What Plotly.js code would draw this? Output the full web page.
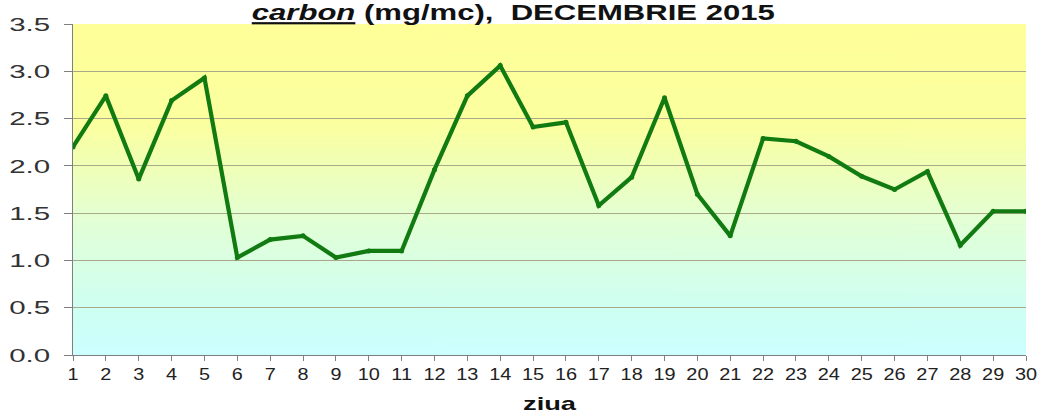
<!DOCTYPE html>
<html><head><meta charset="utf-8">
<script src="https://cdn.plot.ly/plotly-3.0.1.min.js"></script>
<style>html,body{margin:0;padding:0;background:#fff}#chart{width:1039px;height:415px}</style>
</head><body><div id="chart"></div>
<script>
const days = [1,2,3,4,5,6,7,8,9,10,11,12,13,14,15,16,17,18,19,20,21,22,23,24,25,26,27,28,29,30];
const carbon = [2.20,2.74,1.86,2.69,2.93,1.03,1.22,1.26,1.03,1.10,1.10,1.96,2.74,3.06,2.41,2.46,1.58,1.88,2.72,1.70,1.26,2.29,2.26,2.10,1.89,1.75,1.94,1.16,1.52,1.52];
const yTicks = [0,0.5,1,1.5,2,2.5,3,3.5];

const cv = document.createElement('canvas');
cv.width = 4; cv.height = 256;
const cx = cv.getContext('2d');
const g = cx.createLinearGradient(0,0,0,256);
g.addColorStop(0,'#FFFF99');
g.addColorStop(0.3,'#FBFF9F');
g.addColorStop(0.6,'#E2FFD6');
g.addColorStop(0.85,'#CFFFF2');
g.addColorStop(1,'#CCFFFF');
cx.fillStyle = g; cx.fillRect(0,0,4,256);
const bg = cv.toDataURL();

const FONT = 'Liberation Sans, Arial, sans-serif';

Plotly.newPlot('chart',[{
  x: days, y: carbon, type:'scatter', mode:'lines+markers',
  line:{color:'#117A11', width:4.2},
  marker:{color:'#117A11', size:5},
  hoverinfo:'x+y'
}],{
  width:1039, height:415,
  margin:{l:73, r:13, t:24, b:60},
  paper_bgcolor:'#ffffff', plot_bgcolor:'rgba(0,0,0,0)',
  showlegend:false,
  images:[{source:bg, xref:'paper', yref:'paper', x:0, y:1, sizex:1, sizey:1, sizing:'stretch', layer:'below', xanchor:'left', yanchor:'top'}],
  title:{text:'<b><i><u>carbon</u></i> (mg/mc),  DECEMBRIE 2015</b>', font:{family:FONT, size:22, color:'#111'}, x:0.462, xanchor:'center', xref:'paper', yref:'container', y:0.97, yanchor:'middle'},
  xaxis:{range:[1,30], tickmode:'array', tickvals:days, ticktext:days.map(String), showgrid:false, zeroline:false,
    showline:true, linecolor:'#7f7f7f', linewidth:1, ticks:'outside', ticklen:5, tickcolor:'#7f7f7f',
    tickfont:{family:FONT, size:16, color:'#222'},
    title:{text:'<b>ziua</b>', font:{family:FONT, size:19, color:'#111'}, standoff:14}},
  yaxis:{range:[0,3.5], tickmode:'array', tickvals:yTicks, ticktext:yTicks.map(v=>v.toFixed(1)),
    showgrid:true, gridcolor:'#A9A98A', gridwidth:1, zeroline:false,
    showline:true, linecolor:'#7f7f7f', linewidth:1, ticks:'outside', ticklen:8, tickcolor:'#7f7f7f',
    ticklabelstandoff:10,
    tickfont:{family:FONT, size:19, color:'#333'}}
},{displayModeBar:false, staticPlot:true}).then(gd => {
  const stretch = (sel, fn) => gd.querySelectorAll(sel).forEach(t => {
    const w = t.getComputedTextLength();
    const target = fn(w);
    t.setAttribute('textLength', target.toFixed(1));
    t.setAttribute('lengthAdjust', 'spacingAndGlyphs');
  });
  stretch('.ytick text', w => w * 1.55);
  stretch('.xtick text', w => w * 1.24);
  stretch('.g-xtitle text', w => 53);
  stretch('.g-gtitle text', w => 523);
});
</script></body></html>
